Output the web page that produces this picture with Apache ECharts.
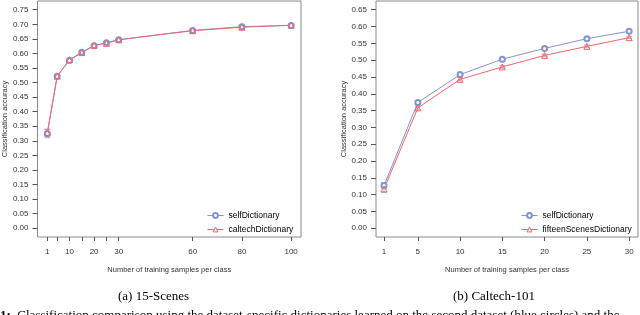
<!DOCTYPE html>
<html><head><meta charset="utf-8">
<script src="https://cdn.jsdelivr.net/npm/echarts@6/dist/echarts.min.js"></script>
<style>html,body{margin:0;padding:0;background:#fff}#c{width:640px;height:315px}</style>
</head><body><div id="c"></div>
<script>
// ---- data: (a) 15-Scenes ----
const scenesX = [1, 5, 10, 15, 20, 25, 30, 60, 80, 100];
const scenesXTicks = [1, 5, 10, 15, 20, 25, 30, 60, 80, 100];
const scenesXLabels = [1, 10, 20, 30, 60, 80, 100];
const scenesSelf = [0.325, 0.522, 0.576, 0.604, 0.626, 0.637, 0.647, 0.679, 0.692, 0.696];
const scenesCaltech = [0.328, 0.522, 0.579, 0.603, 0.628, 0.635, 0.647, 0.678, 0.690, 0.697];
const scenesSelfErr = [0.014, 0.004, 0.006, 0.004, 0.004, 0.004, 0.003, 0.003, 0.003, 0.003];
const scenesCaltechErr = [0.012, 0.004, 0.005, 0.004, 0.004, 0.003, 0.003, 0.003, 0.003, 0.003];
const scenesYTicks = [0, 0.05, 0.10, 0.15, 0.20, 0.25, 0.30, 0.35, 0.40, 0.45, 0.50, 0.55, 0.60, 0.65, 0.70, 0.75];
// ---- data: (b) Caltech-101 ----
const caltechX = [1, 5, 10, 15, 20, 25, 30];
const caltechXTicks = [1, 5, 10, 15, 20, 25, 30];
const caltechSelf = [0.127, 0.374, 0.457, 0.503, 0.535, 0.564, 0.586];
const caltechFifteen = [0.117, 0.358, 0.443, 0.480, 0.514, 0.541, 0.567];
const caltechSelfErr = [0.008, 0.006, 0.005, 0.004, 0.004, 0.004, 0.003];
const caltechFifteenErr = [0.010, 0.006, 0.005, 0.004, 0.004, 0.004, 0.003];
const caltechYTicks = [0, 0.05, 0.10, 0.15, 0.20, 0.25, 0.30, 0.35, 0.40, 0.45, 0.50, 0.55, 0.60, 0.65];

const BLUE = '#8494cf';
const RED = '#f5646e';
const SANS = '"Liberation Sans", Arial, sans-serif';
const SERIF = '"Liberation Serif", "Times New Roman", serif';

function pairs(xs, ys) { return xs.map((x, i) => [x, ys[i]]); }
function errData(xs, ys, es) { return xs.map((x, i) => [x, ys[i] - es[i], ys[i] + es[i]]); }

function errSeries(idx, data) {
  return {
    type: 'custom', xAxisIndex: idx, yAxisIndex: idx, silent: true, z: 1,
    data: data,
    renderItem: function (params, api) {
      const x = api.value(0);
      const lo = api.coord([x, api.value(1)]);
      const hi = api.coord([x, api.value(2)]);
      const w = 3;
      const st = { stroke: '#b0b0b0', lineWidth: 1 };
      return { type: 'group', children: [
        { type: 'line', shape: { x1: lo[0], y1: lo[1], x2: hi[0], y2: hi[1] }, style: st },
        { type: 'line', shape: { x1: lo[0] - w, y1: lo[1], x2: lo[0] + w, y2: lo[1] }, style: st },
        { type: 'line', shape: { x1: hi[0] - w, y1: hi[1], x2: hi[0] + w, y2: hi[1] }, style: st }
      ]};
    }
  };
}

function lineSeries(idx, name, data, color, symbol) {
  const tri = symbol === 'triangle';
  return {
    type: 'line', name: name, xAxisIndex: idx, yAxisIndex: idx, data: data,
    symbol: symbol, symbolSize: tri ? 6 : 5, z: 3,
    lineStyle: { color: color, width: 1 },
    itemStyle: tri ? { color: 'rgba(255,255,255,0)', borderColor: color, borderWidth: 1 }
                   : { color: color, borderColor: color, borderWidth: 1 },
    emphasis: { disabled: true }, animation: false
  };
}

function legendItem(name, color, symbol) {
  return { name: name,
    itemStyle: { color: symbol === 'triangle' ? '#fff' : color, borderColor: color, borderWidth: 1 },
    lineStyle: { color: color, width: 1 } };
}

function xAxis(idx, min, max, ticks, labels) {
  return {
    type: 'value', gridIndex: idx, min: min, max: max,
    name: 'Number of training samples per class', nameLocation: 'middle', nameGap: 29,
    nameTextStyle: { fontSize: 7.5, color: '#333', fontFamily: SANS },
    axisLine: { show: false, onZero: false },
    axisTick: { show: true, customValues: ticks, length: 4, lineStyle: { color: '#555' } },
    axisLabel: { customValues: labels, fontSize: 8, color: '#333', fontFamily: SANS, margin: 11 },
    splitLine: { show: false }
  };
}
function yAxis(idx, min, max, ticks) {
  return {
    type: 'value', gridIndex: idx, min: min, max: max,
    name: 'Classification accuracy', nameLocation: 'middle', nameGap: 28,
    nameTextStyle: { fontSize: 7.5, color: '#333', fontFamily: SANS },
    axisLine: { show: false, onZero: false },
    axisTick: { show: true, customValues: ticks, length: 5, lineStyle: { color: '#555' } },
    axisLabel: { customValues: ticks, fontSize: 8, color: '#333', fontFamily: SANS, margin: 9,
      formatter: v => Number(v).toFixed(2) },
    splitLine: { show: false }
  };
}

const chart = echarts.init(document.getElementById('c'), null, { renderer: 'canvas' });
chart.setOption({
  animation: false,
  backgroundColor: '#fff',
  grid: [
    { left: 37, top: 1, width: 264, height: 236, show: true, borderColor: '#8a8a8a', borderWidth: 1 },
    { left: 376, top: 1, width: 262, height: 236, show: true, borderColor: '#8a8a8a', borderWidth: 1 }
  ],
  xAxis: [
    xAxis(0, -3, 104, scenesXTicks, scenesXLabels),
    xAxis(1, 0.05, 31.05, caltechXTicks, caltechXTicks)
  ],
  yAxis: [
    yAxis(0, -0.03, 0.78, scenesYTicks),
    yAxis(1, -0.026, 0.676, caltechYTicks)
  ],
  legend: [
    { left: 202, top: 206, orient: 'vertical', itemWidth: 16, itemHeight: 6, itemGap: 5,
      selectedMode: false,
      data: [legendItem('selfDictionary', BLUE, 'emptyCircle'), legendItem('caltechDictionary', RED, 'triangle')],
      textStyle: { fontSize: 8.5, color: '#000', fontFamily: SANS } },
    { left: 516, top: 206, orient: 'vertical', itemWidth: 16, itemHeight: 6, itemGap: 5,
      selectedMode: false,
      data: [legendItem('selfDictionary', BLUE, 'emptyCircle'), legendItem('fifteenScenesDictionary', RED, 'triangle')],
      textStyle: { fontSize: 8.5, color: '#000', fontFamily: SANS } }
  ],
  series: [
    errSeries(0, errData(scenesX, scenesSelf, scenesSelfErr)),
    errSeries(0, errData(scenesX, scenesCaltech, scenesCaltechErr)),
    lineSeries(0, 'selfDictionary', pairs(scenesX, scenesSelf), BLUE, 'emptyCircle'),
    lineSeries(0, 'caltechDictionary', pairs(scenesX, scenesCaltech), RED, 'triangle'),
    errSeries(1, errData(caltechX, caltechSelf, caltechSelfErr)),
    errSeries(1, errData(caltechX, caltechFifteen, caltechFifteenErr)),
    lineSeries(1, 'selfDictionary', pairs(caltechX, caltechSelf), BLUE, 'emptyCircle'),
    lineSeries(1, 'fifteenScenesDictionary', pairs(caltechX, caltechFifteen), RED, 'triangle')
  ],
  graphic: [
    { type: 'text', left: 118, top: 290, style: { text: '(a) 15-Scenes', font: '13px ' + SERIF, fill: '#000' } },
    { type: 'text', left: 453, top: 290, style: { text: '(b) Caltech-101', font: '13px ' + SERIF, fill: '#000' } },
    { type: 'text', left: 0, top: 309, style: {
        text: '{b|1:}  Classification comparison using the dataset-specific dictionaries learned on the second dataset (blue circles) and the',
        font: '13px ' + SERIF, fill: '#000',
        rich: { b: { fontWeight: 'bold', fontSize: 13, fontFamily: SERIF } } } }
  ]
});
</script>
</body></html>
